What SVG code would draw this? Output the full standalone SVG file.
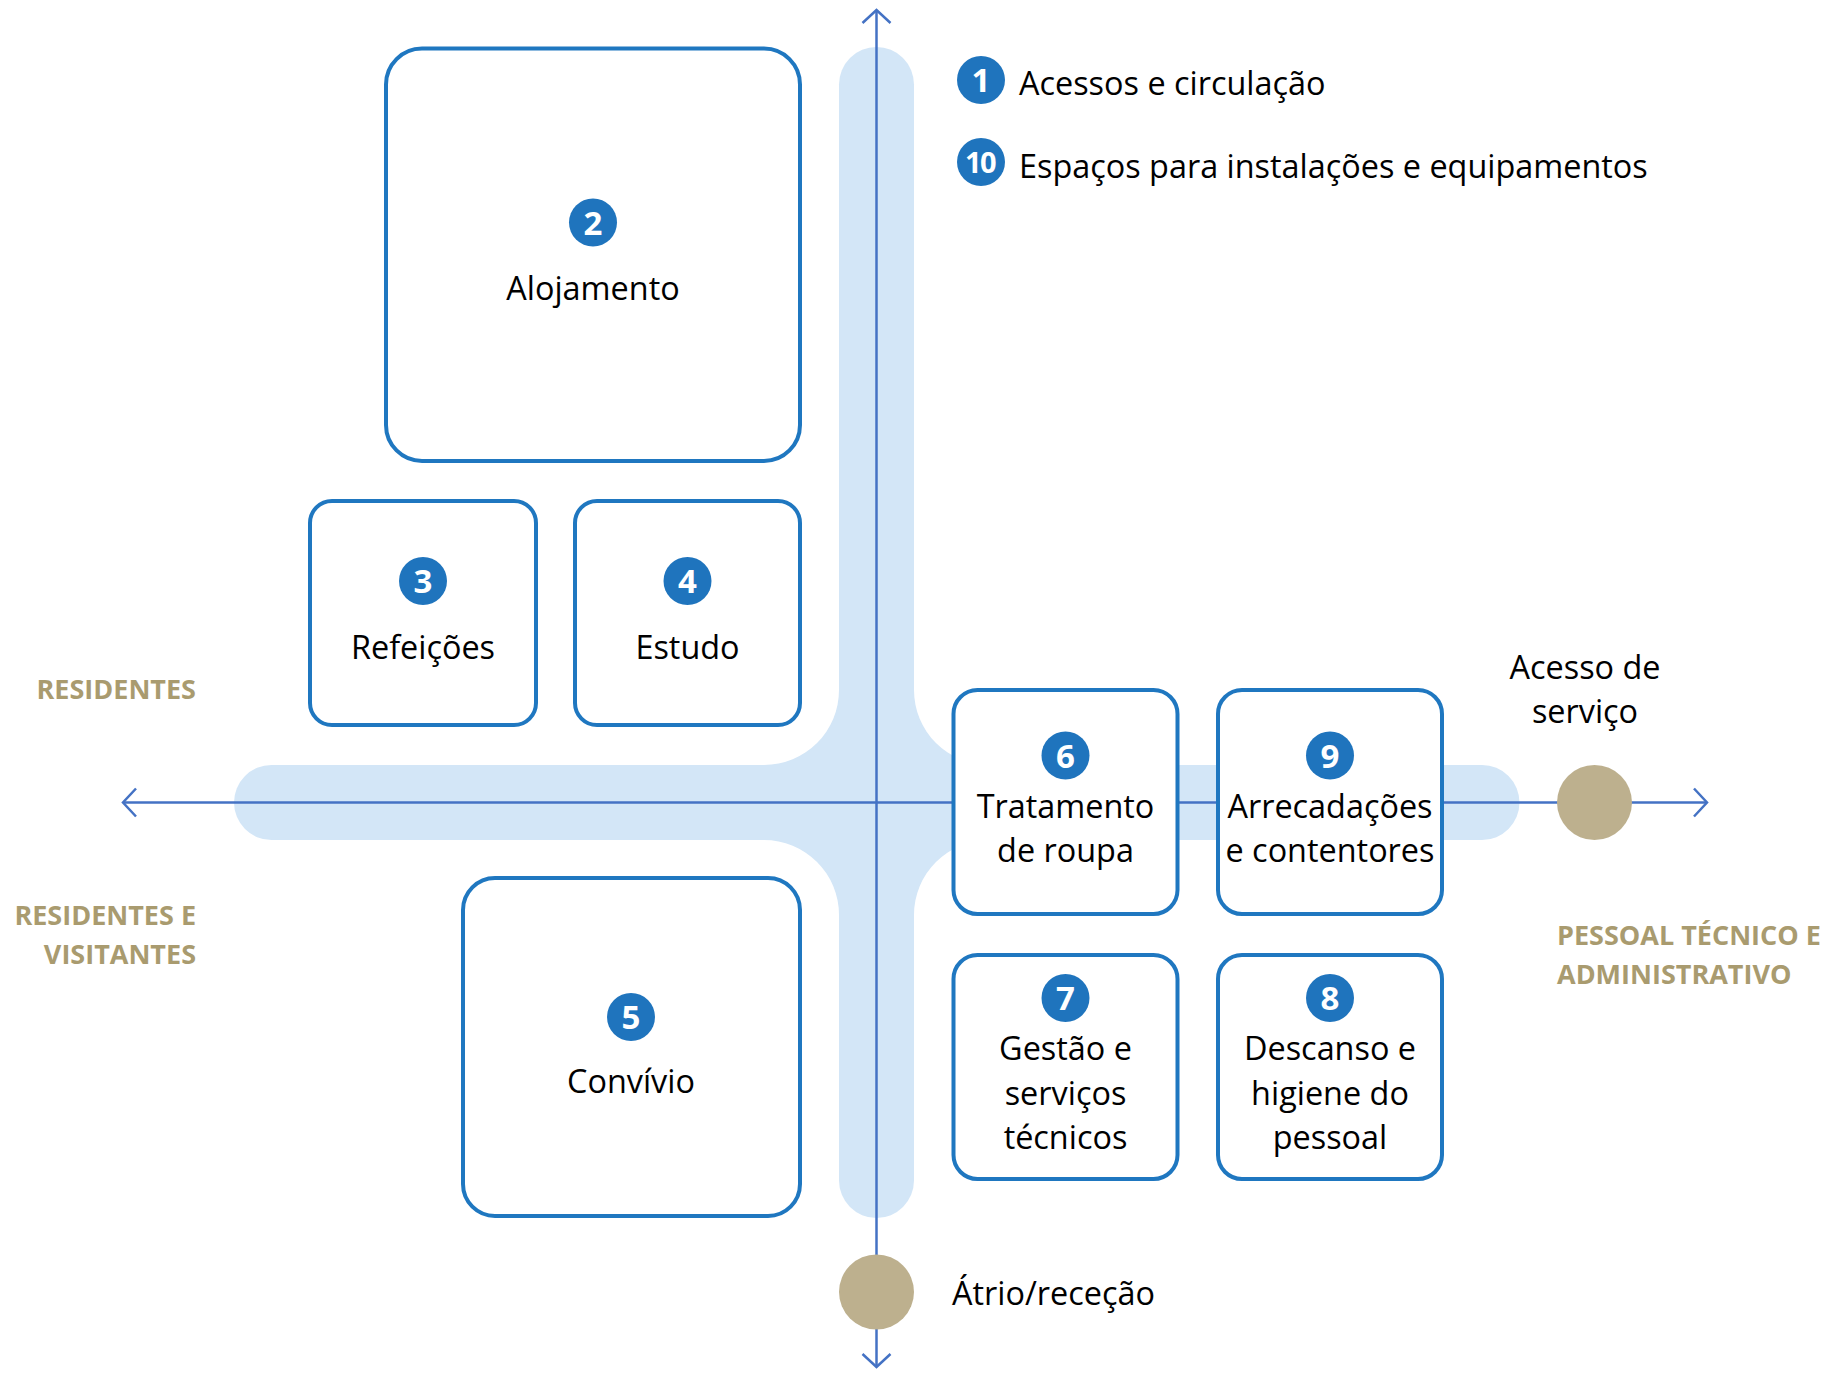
<svg xmlns="http://www.w3.org/2000/svg" width="1837" height="1373" viewBox="0 0 1837 1373">
  <defs>
    <style>
      .band { fill: #d3e6f7; }
      .axis { stroke: #4472c4; stroke-width: 2.5; fill: none; }
      .box { fill: #ffffff; stroke: #1f77c0; stroke-width: 4; }
      .badge { fill: #1f74bd; }
      .num { font-family: "Open Sans", "Liberation Sans", sans-serif; font-weight: 700; font-size: 33px; fill: #ffffff; text-anchor: middle; }
      .num2 { font-size: 29px; letter-spacing: -1.5px; }
      .lbl { font-family: "Open Sans", "Liberation Sans", sans-serif; font-size: 32.4px; fill: #000000; text-anchor: middle; }
      .lgd { font-family: "Open Sans", "Liberation Sans", sans-serif; font-size: 32.4px; fill: #000000; }
      .grp { font-family: "Open Sans", "Liberation Sans", sans-serif; font-weight: 700; font-size: 27px; fill: #a99b6f; }
      .stop { fill: #bdb08e; }
    </style>
    <marker id="chev" markerUnits="userSpaceOnUse" markerWidth="20" markerHeight="32" viewBox="-16 -16 20 32" refX="0" refY="0" orient="auto-start-reverse" overflow="visible">
      <path d="M -13 -14 L 0 0 L -13 14" fill="none" stroke="#4472c4" stroke-width="2.5" stroke-linejoin="miter"/>
    </marker>
  </defs>

  <rect width="1837" height="1373" fill="#ffffff"/>

  <!-- circulation corridors -->
  <g id="corridors">
    <rect class="band" x="839" y="47" width="75" height="1171" rx="37.5"/>
    <rect class="band" x="234" y="765" width="1285.5" height="75" rx="37.5"/>
    <path class="band" d="M 764 765 L 839 765 L 839 690 A 75 75 0 0 1 764 765 Z"/>
    <path class="band" d="M 764 840 L 839 840 L 839 915 A 75 75 0 0 0 764 840 Z"/>
    <path class="band" d="M 914 690 L 914 765 L 989 765 A 75 75 0 0 1 914 690 Z"/>
    <path class="band" d="M 914 915 L 914 840 L 989 840 A 75 75 0 0 0 914 915 Z"/>
  </g>

  <!-- main axes -->
  <g id="connectors">
    <line class="axis" x1="876.5" y1="10" x2="876.5" y2="1367" marker-start="url(#chev)" marker-end="url(#chev)"/>
    <line class="axis" x1="123" y1="802.5" x2="1707" y2="802.5" marker-start="url(#chev)" marker-end="url(#chev)"/>
  </g>

  <!-- legend -->
  <g id="legend-1">
    <circle class="badge" cx="981" cy="80" r="24"/>
    <text class="num" x="981" y="92">1</text>
    <text class="lgd" x="1019" y="95">Acessos e circulação</text>
  </g>
  <g id="legend-10">
    <circle class="badge" cx="981" cy="162" r="24"/>
    <text class="num num2" x="980" y="172.5">10</text>
    <text class="lgd" x="1019" y="178">Espaços para instalações e equipamentos</text>
  </g>

  <!-- spaces -->
  <g id="node-2">
    <rect class="box" x="386" y="48.5" width="414" height="412.5" rx="36"/>
    <circle class="badge" cx="593" cy="222.5" r="24"/>
    <text class="num" x="593" y="234.5">2</text>
    <text class="lbl" x="593" y="300">Alojamento</text>
  </g>
  <g id="node-3">
    <rect class="box" x="310" y="501" width="226" height="224" rx="22"/>
    <circle class="badge" cx="423" cy="581" r="24"/>
    <text class="num" x="423" y="593">3</text>
    <text class="lbl" x="423" y="659">Refeições</text>
  </g>
  <g id="node-4">
    <rect class="box" x="575" y="501" width="225" height="224" rx="22"/>
    <circle class="badge" cx="687.5" cy="581" r="24"/>
    <text class="num" x="687.5" y="593">4</text>
    <text class="lbl" x="687.5" y="659">Estudo</text>
  </g>
  <g id="node-5">
    <rect class="box" x="463" y="878" width="337" height="338" rx="32"/>
    <circle class="badge" cx="631" cy="1017" r="24"/>
    <text class="num" x="631" y="1029">5</text>
    <text class="lbl" x="631" y="1093">Convívio</text>
  </g>
  <g id="node-6">
    <rect class="box" x="953.5" y="690" width="224" height="224" rx="24"/>
    <circle class="badge" cx="1065.5" cy="755.5" r="24"/>
    <text class="num" x="1065.5" y="767.5">6</text>
    <text class="lbl" x="1065.5" y="818">Tratamento</text>
    <text class="lbl" x="1065.5" y="862">de roupa</text>
  </g>
  <g id="node-9">
    <rect class="box" x="1218" y="690" width="224" height="224" rx="24"/>
    <circle class="badge" cx="1330" cy="755.5" r="24"/>
    <text class="num" x="1330" y="767.5">9</text>
    <text class="lbl" x="1330" y="818">Arrecadações</text>
    <text class="lbl" x="1330" y="862">e contentores</text>
  </g>
  <g id="node-7">
    <rect class="box" x="953.5" y="955" width="224" height="224" rx="24"/>
    <circle class="badge" cx="1065.5" cy="998" r="24"/>
    <text class="num" x="1065.5" y="1010">7</text>
    <text class="lbl" x="1065.5" y="1060">Gestão e</text>
    <text class="lbl" x="1065.5" y="1105">serviços</text>
    <text class="lbl" x="1065.5" y="1149">técnicos</text>
  </g>
  <g id="node-8">
    <rect class="box" x="1218" y="955" width="224" height="224" rx="24"/>
    <circle class="badge" cx="1330" cy="998" r="24"/>
    <text class="num" x="1330" y="1010">8</text>
    <text class="lbl" x="1330" y="1060">Descanso e</text>
    <text class="lbl" x="1330" y="1105">higiene do</text>
    <text class="lbl" x="1330" y="1149">pessoal</text>
  </g>

  <!-- entrances -->
  <g id="node-service-access">
    <circle class="stop" cx="1594.5" cy="802.5" r="37.5"/>
    <text class="lbl" x="1585" y="679">Acesso de</text>
    <text class="lbl" x="1585" y="723">serviço</text>
  </g>
  <g id="node-atrium">
    <circle class="stop" cx="876.5" cy="1292" r="37.5"/>
    <text class="lgd" x="952" y="1305">Átrio/receção</text>
  </g>

  <!-- user groups -->
  <g id="group-residents">
    <text class="grp" x="196" y="699" text-anchor="end">RESIDENTES</text>
  </g>
  <g id="group-residents-visitors">
    <text class="grp" x="196" y="925" text-anchor="end">RESIDENTES E</text>
    <text class="grp" x="196" y="964" text-anchor="end">VISITANTES</text>
  </g>
  <g id="group-staff">
    <text class="grp" x="1557" y="945">PESSOAL TÉCNICO E</text>
    <text class="grp" x="1557" y="984">ADMINISTRATIVO</text>
  </g>
</svg>
